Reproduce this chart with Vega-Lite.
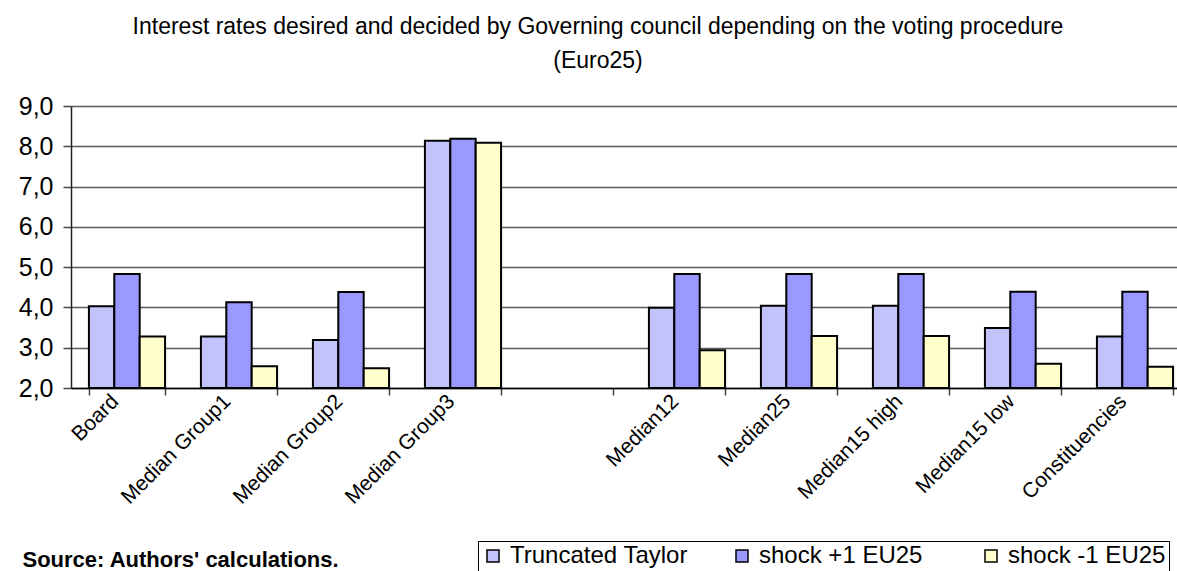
{
  "$schema": "https://vega.github.io/schema/vega-lite/v6.json",
  "autosize": {"type": "none"},
  "padding": {"left": 71, "top": 106, "right": 0, "bottom": 183},
  "width": 1106,
  "height": 282,
  "background": "white",
  "title": {
    "text": ["Interest rates desired and decided by Governing council depending on the voting procedure", "(Euro25)"],
    "anchor": "middle",
    "frame": "group",
    "dx": -26,
    "offset": 21,
    "font": "Liberation Sans",
    "fontSize": 23,
    "fontWeight": "normal",
    "color": "black",
    "lineHeight": 34
  },
  "config": {
    "font": "Liberation Sans",
    "view": {"stroke": null}
  },
  "data": {
    "values": [
      {"category": "Board", "series": "Truncated Taylor", "value": 4.03},
      {"category": "Board", "series": "shock +1 EU25", "value": 4.83},
      {"category": "Board", "series": "shock -1 EU25", "value": 3.28},
      {"category": "Median Group1", "series": "Truncated Taylor", "value": 3.28},
      {"category": "Median Group1", "series": "shock +1 EU25", "value": 4.13},
      {"category": "Median Group1", "series": "shock -1 EU25", "value": 2.54},
      {"category": "Median Group2", "series": "Truncated Taylor", "value": 3.19},
      {"category": "Median Group2", "series": "shock +1 EU25", "value": 4.38},
      {"category": "Median Group2", "series": "shock -1 EU25", "value": 2.49},
      {"category": "Median Group3", "series": "Truncated Taylor", "value": 8.14},
      {"category": "Median Group3", "series": "shock +1 EU25", "value": 8.19},
      {"category": "Median Group3", "series": "shock -1 EU25", "value": 8.09},
      {"category": "Median12", "series": "Truncated Taylor", "value": 3.99},
      {"category": "Median12", "series": "shock +1 EU25", "value": 4.83},
      {"category": "Median12", "series": "shock -1 EU25", "value": 2.94},
      {"category": "Median25", "series": "Truncated Taylor", "value": 4.04},
      {"category": "Median25", "series": "shock +1 EU25", "value": 4.83},
      {"category": "Median25", "series": "shock -1 EU25", "value": 3.29},
      {"category": "Median15 high", "series": "Truncated Taylor", "value": 4.04},
      {"category": "Median15 high", "series": "shock +1 EU25", "value": 4.83},
      {"category": "Median15 high", "series": "shock -1 EU25", "value": 3.29},
      {"category": "Median15 low", "series": "Truncated Taylor", "value": 3.49},
      {"category": "Median15 low", "series": "shock +1 EU25", "value": 4.39},
      {"category": "Median15 low", "series": "shock -1 EU25", "value": 2.6},
      {"category": "Constituencies", "series": "Truncated Taylor", "value": 3.28},
      {"category": "Constituencies", "series": "shock +1 EU25", "value": 4.39},
      {"category": "Constituencies", "series": "shock -1 EU25", "value": 2.53}
    ]
  },
  "mark": {"type": "bar", "stroke": "black", "strokeWidth": 2, "strokeJoin": "miter"},
  "encoding": {
    "x": {
      "field": "category",
      "type": "nominal",
      "scale": {
        "domain": ["Board", "Median Group1", "Median Group2", "Median Group3", " ", "Median12", "Median25", "Median15 high", "Median15 low", "Constituencies"],
        "range": [0, 1120],
        "paddingInner": 0.32,
        "paddingOuter": 0.16
      },
      "axis": {
        "title": "Source: Authors' calculations.",
        "titleFont": "Liberation Sans",
        "titleFontSize": 22,
        "titleFontWeight": "bold",
        "titleColor": "black",
        "titleAnchor": "start",
        "titleAlign": "left",
        "titleBaseline": "alphabetic",
        "titleX": -49,
        "titleY": 178,
        "labelAngle": -45,
        "labelAlign": "right",
        "labelBaseline": "middle",
        "labelFontSize": 21,
        "labelColor": "black",
        "labelPadding": 3,
        "labelOffset": -12,
        "tickBand": "extent",
        "tickSize": 7,
        "tickColor": "#444444",
        "tickWidth": 1.5,
        "domainColor": "black",
        "domainWidth": 1.5,
        "grid": false
      }
    },
    "xOffset": {
      "field": "series",
      "type": "nominal",
      "scale": {"domain": ["Truncated Taylor", "shock +1 EU25", "shock -1 EU25"], "paddingInner": 0, "paddingOuter": 0}
    },
    "y": {
      "field": "value",
      "type": "quantitative",
      "scale": {"domain": [2, 9], "nice": false, "zero": false},
      "axis": {
        "title": null,
        "values": [2, 3, 4, 5, 6, 7, 8, 9],
        "labelExpr": "replace(format(datum.value, '.1f'), '.', ',')",
        "labelFontSize": 25,
        "labelColor": "black",
        "labelPadding": 10,
        "tickSize": 8,
        "tickColor": "#444444",
        "tickWidth": 1.5,
        "domainColor": "#222222",
        "domainWidth": 1.5,
        "grid": true,
        "gridColor": "#5a5a5a",
        "gridWidth": 1.5
      }
    },
    "y2": {"datum": 2},
    "fill": {
      "field": "series",
      "type": "nominal",
      "scale": {
        "domain": ["Truncated Taylor", "shock +1 EU25", "shock -1 EU25"],
        "range": ["#c3c3fb", "#9999ff", "#ffffcc"]
      },
      "legend": {
        "title": null,
        "orient": "none",
        "legendX": 407,
        "legendY": 435,
        "direction": "horizontal",
        "columns": 3,
        "gridAlign": "all",
        "strokeColor": "black",
        "padding": 3,
        "symbolType": "square",
        "symbolSize": 144,
        "symbolStrokeColor": "black",
        "symbolStrokeWidth": 1.5,
        "symbolOpacity": 1,
        "labelFontSize": 24,
        "labelLimit": 0,
        "labelColor": "black",
        "labelOffset": 5,
        "columnPadding": 42
      }
    }
  }
}
